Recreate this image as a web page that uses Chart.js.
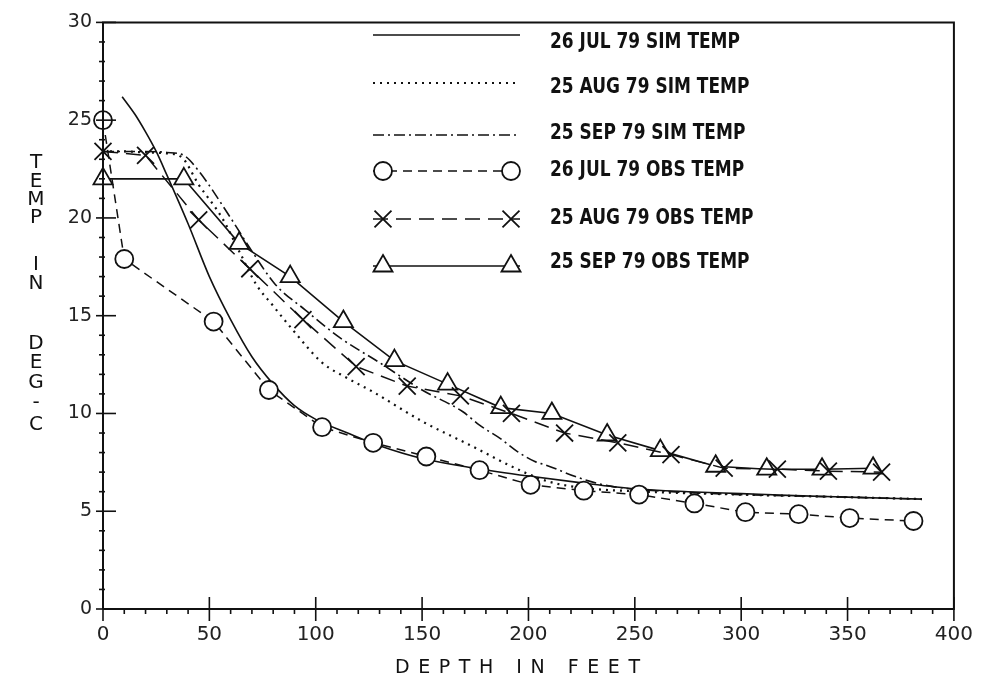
<!DOCTYPE html>
<html>
<head>
<meta charset="utf-8">
<script src="https://cdn.jsdelivr.net/npm/chart.js@4.4.1/dist/chart.umd.min.js"></script>
<style>
  html, body { margin: 0; padding: 0; background: #fff; }
  #wrap { width: 987px; height: 689px; }
</style>
</head>
<body>
<div id="wrap"><canvas id="chart" width="987" height="689"></canvas></div>
<script>
// Depth (ft) / temperature (deg C)
const julSimDepth = [9, 15, 20, 25, 30, 40, 50, 60, 70, 80, 90, 100, 115, 130, 150, 175, 200, 225, 250, 275, 300, 325, 350, 385];
const julSimTemp  = [26.2, 25.3, 24.4, 23.4, 22.2, 19.7, 17.0, 14.8, 12.9, 11.5, 10.4, 9.7, 9.0, 8.35, 7.7, 7.2, 6.8, 6.45, 6.15, 6.0, 5.9, 5.8, 5.72, 5.62];

const augSimDepth = [0, 10, 20, 30, 37, 45, 56, 64, 72, 80, 89, 103, 115, 127, 150, 174, 190, 200, 210, 225, 250, 300, 350, 385];
const augSimTemp  = [23.4, 23.4, 23.35, 23.3, 23.1, 21.7, 20.0, 18.3, 16.6, 15.5, 14.3, 12.6, 11.8, 11.1, 9.6, 8.3, 7.4, 6.9, 6.5, 6.2, 6.02, 5.85, 5.72, 5.62];

const sepSimDepth = [0, 10, 20, 30, 38, 45, 60, 70, 81, 95, 111, 130, 150, 169, 177, 187, 195, 203, 208, 224, 239, 260, 300, 350, 385];
const sepSimTemp  = [23.4, 23.4, 23.4, 23.35, 23.2, 22.4, 20.0, 18.3, 16.6, 15.3, 13.9, 12.6, 11.2, 10.1, 9.4, 8.7, 8.04, 7.54, 7.37, 6.7, 6.27, 6.05, 5.85, 5.72, 5.62];

const julObsDepth = [0, 10, 52, 78, 103, 127, 152, 177, 201, 226, 252, 278, 302, 327, 351, 381];
const julObsTemp  = [25, 17.9, 14.7, 11.2, 9.3, 8.5, 7.8, 7.1, 6.35, 6.05, 5.85, 5.4, 4.95, 4.85, 4.65, 4.5];

const augObsDepth = [0, 20, 45, 69, 94, 119, 143, 168, 192, 217, 242, 267, 292, 317, 341, 366];
const augObsTemp  = [23.4, 23.2, 19.9, 17.4, 14.8, 12.4, 11.4, 10.9, 10.0, 9.0, 8.5, 7.9, 7.2, 7.15, 7.05, 7.0];

const sepObsDepth = [0, 38, 64, 88, 113, 137, 162, 187, 211, 237, 262, 288, 312, 338, 362];
const sepObsTemp  = [22, 22, 18.7, 17.0, 14.7, 12.7, 11.5, 10.3, 10.0, 8.9, 8.1, 7.3, 7.15, 7.15, 7.2];

const seriesLabels = ['26 JUL 79 SIM TEMP', '25 AUG 79 SIM TEMP', '25 SEP 79 SIM TEMP',
                      '26 JUL 79 OBS TEMP', '25 AUG 79 OBS TEMP', '25 SEP 79 OBS TEMP'];

const xTicks = [0, 50, 100, 150, 200, 250, 300, 350, 400];
const yTicks = [0, 5, 10, 15, 20, 25, 30];

const INK = '#111';

function pts(xs, ys) {
    return xs.map((x, i) => ({ x: x, y: ys[i] }));
}

// line styles, shared by the plot and the legend
const styles = [
    { dash: [], width: 1.6, point: null },
    { dash: [2, 5], width: 2.2, point: null },
    { dash: [11, 4, 2, 4], width: 1.6, point: null },
    { dash: [9, 6], width: 1.5, point: 'circle', r: 9 },
    { dash: [15, 8], width: 1.5, point: 'crossRot', r: 12 },
    { dash: [], width: 1.6, point: 'triangle', r: 11 }
];

function simSet(i, data) {
    return {
        label: seriesLabels[i],
        data: data,
        showLine: true,
        borderColor: INK,
        borderWidth: styles[i].width,
        borderDash: styles[i].dash,
        pointRadius: 0,
        cubicInterpolationMode: 'monotone',
        clip: false
    };
}

function obsSet(i, data) {
    return {
        label: seriesLabels[i],
        data: data,
        showLine: true,
        borderColor: INK,
        borderWidth: styles[i].width,
        borderDash: styles[i].dash,
        tension: 0,
        pointStyle: styles[i].point,
        pointRadius: styles[i].r,
        pointBorderWidth: 1.8,
        pointBorderColor: INK,
        pointBackgroundColor: '#fff',
        clip: false
    };
}

// simple marker drawing for the legend
function drawMark(ctx, style, x, y, r) {
    ctx.save();
    ctx.setLineDash([]);
    ctx.lineWidth = 1.8;
    ctx.strokeStyle = INK;
    ctx.fillStyle = '#fff';
    ctx.beginPath();
    if (style === 'circle') {
        ctx.arc(x, y, r, 0, Math.PI * 2);
        ctx.fill();
        ctx.stroke();
    } else if (style === 'triangle') {
        for (let k = 0; k < 3; k++) {
            const a = k * 2 * Math.PI / 3;
            const px = x + Math.sin(a) * r, py = y - Math.cos(a) * r;
            if (k === 0) ctx.moveTo(px, py); else ctx.lineTo(px, py);
        }
        ctx.closePath();
        ctx.fill();
        ctx.stroke();
    } else if (style === 'crossRot') {
        const d = r * Math.SQRT1_2;
        ctx.moveTo(x - d, y - d); ctx.lineTo(x + d, y + d);
        ctx.moveTo(x + d, y - d); ctx.lineTo(x - d, y + d);
        ctx.stroke();
    }
    ctx.restore();
}

const framePlugin = {
    id: 'frame',
    afterDatasetsDraw(chart) {
        const ctx = chart.ctx;
        const a = chart.chartArea;
        const xs = chart.scales.x, ys = chart.scales.y;
        ctx.save();
        ctx.strokeStyle = INK;
        ctx.setLineDash([]);

        // box
        ctx.lineWidth = 2;
        ctx.beginPath();
        ctx.moveTo(a.left, a.bottom); ctx.lineTo(a.left, a.top);
        ctx.lineTo(a.right, a.top); ctx.lineTo(a.right, a.bottom);
        ctx.lineTo(a.left, a.bottom);
        ctx.stroke();

        // y ticks: majors cross the axis, minors every degree
        ctx.lineWidth = 1.6;
        for (let v = 0; v <= 30; v++) {
            const py = ys.getPixelForValue(v);
            ctx.beginPath();
            if (v % 5 === 0) { ctx.moveTo(a.left - 7, py); ctx.lineTo(a.left + 13, py); }
            else { ctx.moveTo(a.left - 4, py); ctx.lineTo(a.left + 2, py); }
            ctx.stroke();
        }
        // x ticks: majors cross, minors every 10 ft below
        for (let v = 0; v <= 400; v += 10) {
            const px = xs.getPixelForValue(v);
            ctx.beginPath();
            if (v % 50 === 0) { ctx.moveTo(px, a.bottom - 12); ctx.lineTo(px, a.bottom + 12); }
            else { ctx.moveTo(px, a.bottom); ctx.lineTo(px, a.bottom + 5); }
            ctx.stroke();
        }

        // legend
        const rowLine = [35, 83, 135, 171, 219, 266];
        const rowText = [43, 88, 134, 171, 219, 263];
        const x0 = 373, x1 = 520;
        ctx.font = 'bold 21px "DejaVu Sans Condensed", "Liberation Sans Narrow", sans-serif';
        const squeeze = 190 / ctx.measureText(seriesLabels[0]).width;
        seriesLabels.forEach((lab, i) => {
            const st = styles[i];
            ctx.lineWidth = st.width;
            ctx.setLineDash(st.dash);
            ctx.beginPath();
            ctx.moveTo(x0, rowLine[i]); ctx.lineTo(x1, rowLine[i]);
            ctx.stroke();
            if (st.point) {
                drawMark(ctx, st.point, x0 + 10, rowLine[i], st.r);
                drawMark(ctx, st.point, x1 - 9, rowLine[i], st.r);
            }
            ctx.save();
            ctx.fillStyle = INK;
            ctx.textBaseline = 'middle';
            ctx.translate(550, rowText[i]);
            ctx.scale(squeeze, 1);
            ctx.fillText(lab, 0, 0);
            ctx.restore();
        });

        // axis titles
        ctx.fillStyle = INK;
        ctx.textAlign = 'center';
        ctx.textBaseline = 'middle';
        ctx.font = '20px "DejaVu Sans", sans-serif';
        const yLetters = ['T', 'E', 'M', 'P', 'I', 'N', 'D', 'E', 'G', '-', 'C'];
        const yLetterPos = [163, 182, 200, 218, 265, 284, 344, 363, 383, 403, 425];
        yLetters.forEach((ch, i) => ctx.fillText(ch, 36, yLetterPos[i]));

        ctx.font = '19px "DejaVu Sans", sans-serif';
        ctx.textAlign = 'left';
        const title = 'DEPTH IN FEET';
        let natural = 0;
        for (const ch of title) natural += ctx.measureText(ch).width;
        const gap = (245 - natural) / (title.length - 1);
        let tx = 395;
        for (const ch of title) {
            ctx.fillText(ch, tx, 668);
            tx += ctx.measureText(ch).width + gap;
        }
        ctx.restore();
    }
};

const tickFont = { family: '"DejaVu Sans", sans-serif', size: 19 };

new Chart(document.getElementById('chart').getContext('2d'), {
    type: 'scatter',
    data: {
        datasets: [
            obsSet(3, pts(julObsDepth, julObsTemp)),
            obsSet(4, pts(augObsDepth, augObsTemp)),
            obsSet(5, pts(sepObsDepth, sepObsTemp)),
            simSet(0, pts(julSimDepth, julSimTemp)),
            simSet(1, pts(augSimDepth, augSimTemp)),
            simSet(2, pts(sepSimDepth, sepSimTemp))
        ]
    },
    options: {
        responsive: false,
        animation: false,
        layout: { padding: { left: 0, right: 31, top: 16, bottom: 0 } },
        plugins: { legend: { display: false }, tooltip: { enabled: false } },
        scales: {
            x: {
                type: 'linear',
                min: 0,
                max: 400,
                afterBuildTicks: s => { s.ticks = xTicks.map(v => ({ value: v })); },
                afterFit: s => { s.height = 80; },
                grid: { display: false, drawTicks: false },
                border: { display: false },
                ticks: { color: '#222', font: { ...tickFont, size: 20 }, padding: 14, maxRotation: 0 }
            },
            y: {
                min: 0,
                max: 30,
                afterBuildTicks: s => { s.ticks = yTicks.map(v => ({ value: v })); },
                afterFit: s => { s.width = 103; },
                grid: { display: false, drawTicks: false },
                border: { display: false },
                ticks: { color: '#222', font: tickFont, padding: 11 }
            }
        }
    },
    plugins: [framePlugin]
});
</script>
</body>
</html>
